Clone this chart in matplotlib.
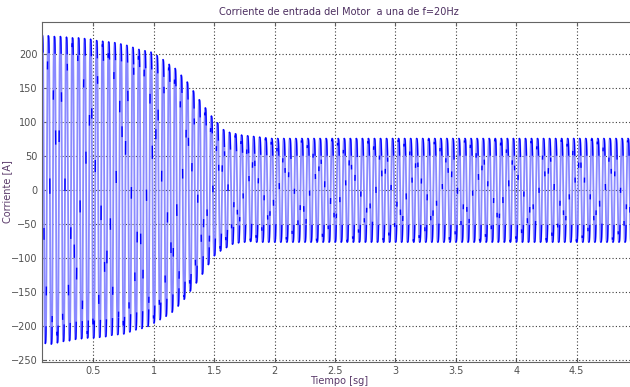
import numpy as np
import matplotlib
matplotlib.use("Agg")
import matplotlib.pyplot as plt

# supply frequency and first positive peak
freq_hz = 20.0
first_peak_t = 0.077
t_start, t_end = 0.072, 5.0

# positive / negative peak of each cycle during start-up [A]
top_peaks = [228, 227, 226, 226, 225, 224, 224, 223, 222, 220, 219, 218, 217,
             215, 213, 210, 207, 205, 203, 198, 192, 185, 179, 169, 159, 146,
             133, 121, 109, 99, 89, 85, 83, 81, 80, 79, 78, 77]
bottom_peaks = [-225, -226, -224, -222, -221, -219, -218, -217, -217, -216,
                -215, -213, -212, -211, -208, -205, -203, -200, -195, -190,
                -185, -179, -170, -160, -148, -136, -123, -109, -96, -89, -84,
                -79, -77, -76, -75]
steady_peak = 76

# flat-top (3rd harmonic) of the inverter-fed phase current
flat_rel = 0.1
# shoulder just after each peak [A]
shoulder_a = 25
# switching kinks along the flanks (order, slip against the fundamental)
kink_order = 5
kink_slip_hz = 3.7

xticks = [0.5, 1, 1.5, 2, 2.5, 3, 3.5, 4, 4.5]
xticklabels = ["0.5", "1", "1.5", "2", "2.5", "3", "3.5", "4", "4.5"]
yticks = [-250, -200, -150, -100, -50, 0, 50, 100, 150, 200]


def build_current():
    period = 1.0 / freq_hz
    t = np.arange(t_start, t_end, 1e-4)
    n_cycles = int((t_end - first_peak_t) / period) + 2
    top = np.array(top_peaks + [steady_peak] * (n_cycles - len(top_peaks)), float)
    bot = np.array([-v for v in bottom_peaks] + [steady_peak] * (n_cycles - len(bottom_peaks)), float)

    theta = 2 * np.pi * freq_hz * (t - first_peak_t) + np.pi / 2
    k_top = np.clip(np.floor((t - first_peak_t + period / 2) / period).astype(int), 0, n_cycles - 1)
    k_bot = np.clip(np.floor((t - first_peak_t) / period).astype(int), 0, n_cycles - 1)

    shape = (np.sin(theta) + flat_rel * np.sin(3 * theta)) / (1 - flat_rel)
    amp = np.where(shape > 0, top[k_top], bot[k_bot])
    i = amp * shape

    # shoulders after the peaks and switching kinks are traced darker
    dshape = np.gradient(shape, theta)
    shoulder = (np.abs(i) > amp - shoulder_a) & (shape * dshape <= 0)
    kink_phase = kink_order * theta + 2 * np.pi * kink_slip_hz * t
    kink = (np.cos(kink_phase) > 0.985) & (np.abs(np.sin(theta)) < 0.9)
    return t, i, np.where(shoulder | kink, i, np.nan)


t, i_motor, i_dark = build_current()

fig = plt.figure(figsize=(6.3, 3.87), dpi=100)
ax = fig.add_axes([0.0662, 0.0646, 0.9448, 0.8793])

ax.plot(t, i_motor, color="#8a8aff", lw=1.3)
ax.plot(t, i_dark, color="#0000ff", lw=1.0)

ax.set_xlim(t_start, t_end)
ax.set_ylim(-252.5, 248)
ax.set_xticks(xticks)
ax.set_xticklabels(xticklabels)
ax.set_yticks(yticks)

ax.grid(True, color="#3c3c3c", linestyle=(0, (1, 2)), lw=0.8)
ax.tick_params(direction="in", length=3, labelsize=7, colors="#606060",
               labelcolor="#505050", top=True, right=False, pad=3)
for side in ["left", "top", "bottom"]:
    ax.spines[side].set_color("#646464")
ax.spines["right"].set_visible(False)

ax.set_title("Corriente de entrada del Motor  a una de f=20Hz", fontsize=7,
             color="#4b2d5f", pad=5)
ax.set_xlabel("Tiempo [sg]", fontsize=7, color="#5a3a6a")
ax.set_ylabel("Corriente [A]", fontsize=7, color="#5a3a6a")
ax.xaxis.set_label_coords(0.5, -0.041)
ax.yaxis.set_label_coords(-0.05, 0.5)

fig.savefig("out.png", dpi=100)
